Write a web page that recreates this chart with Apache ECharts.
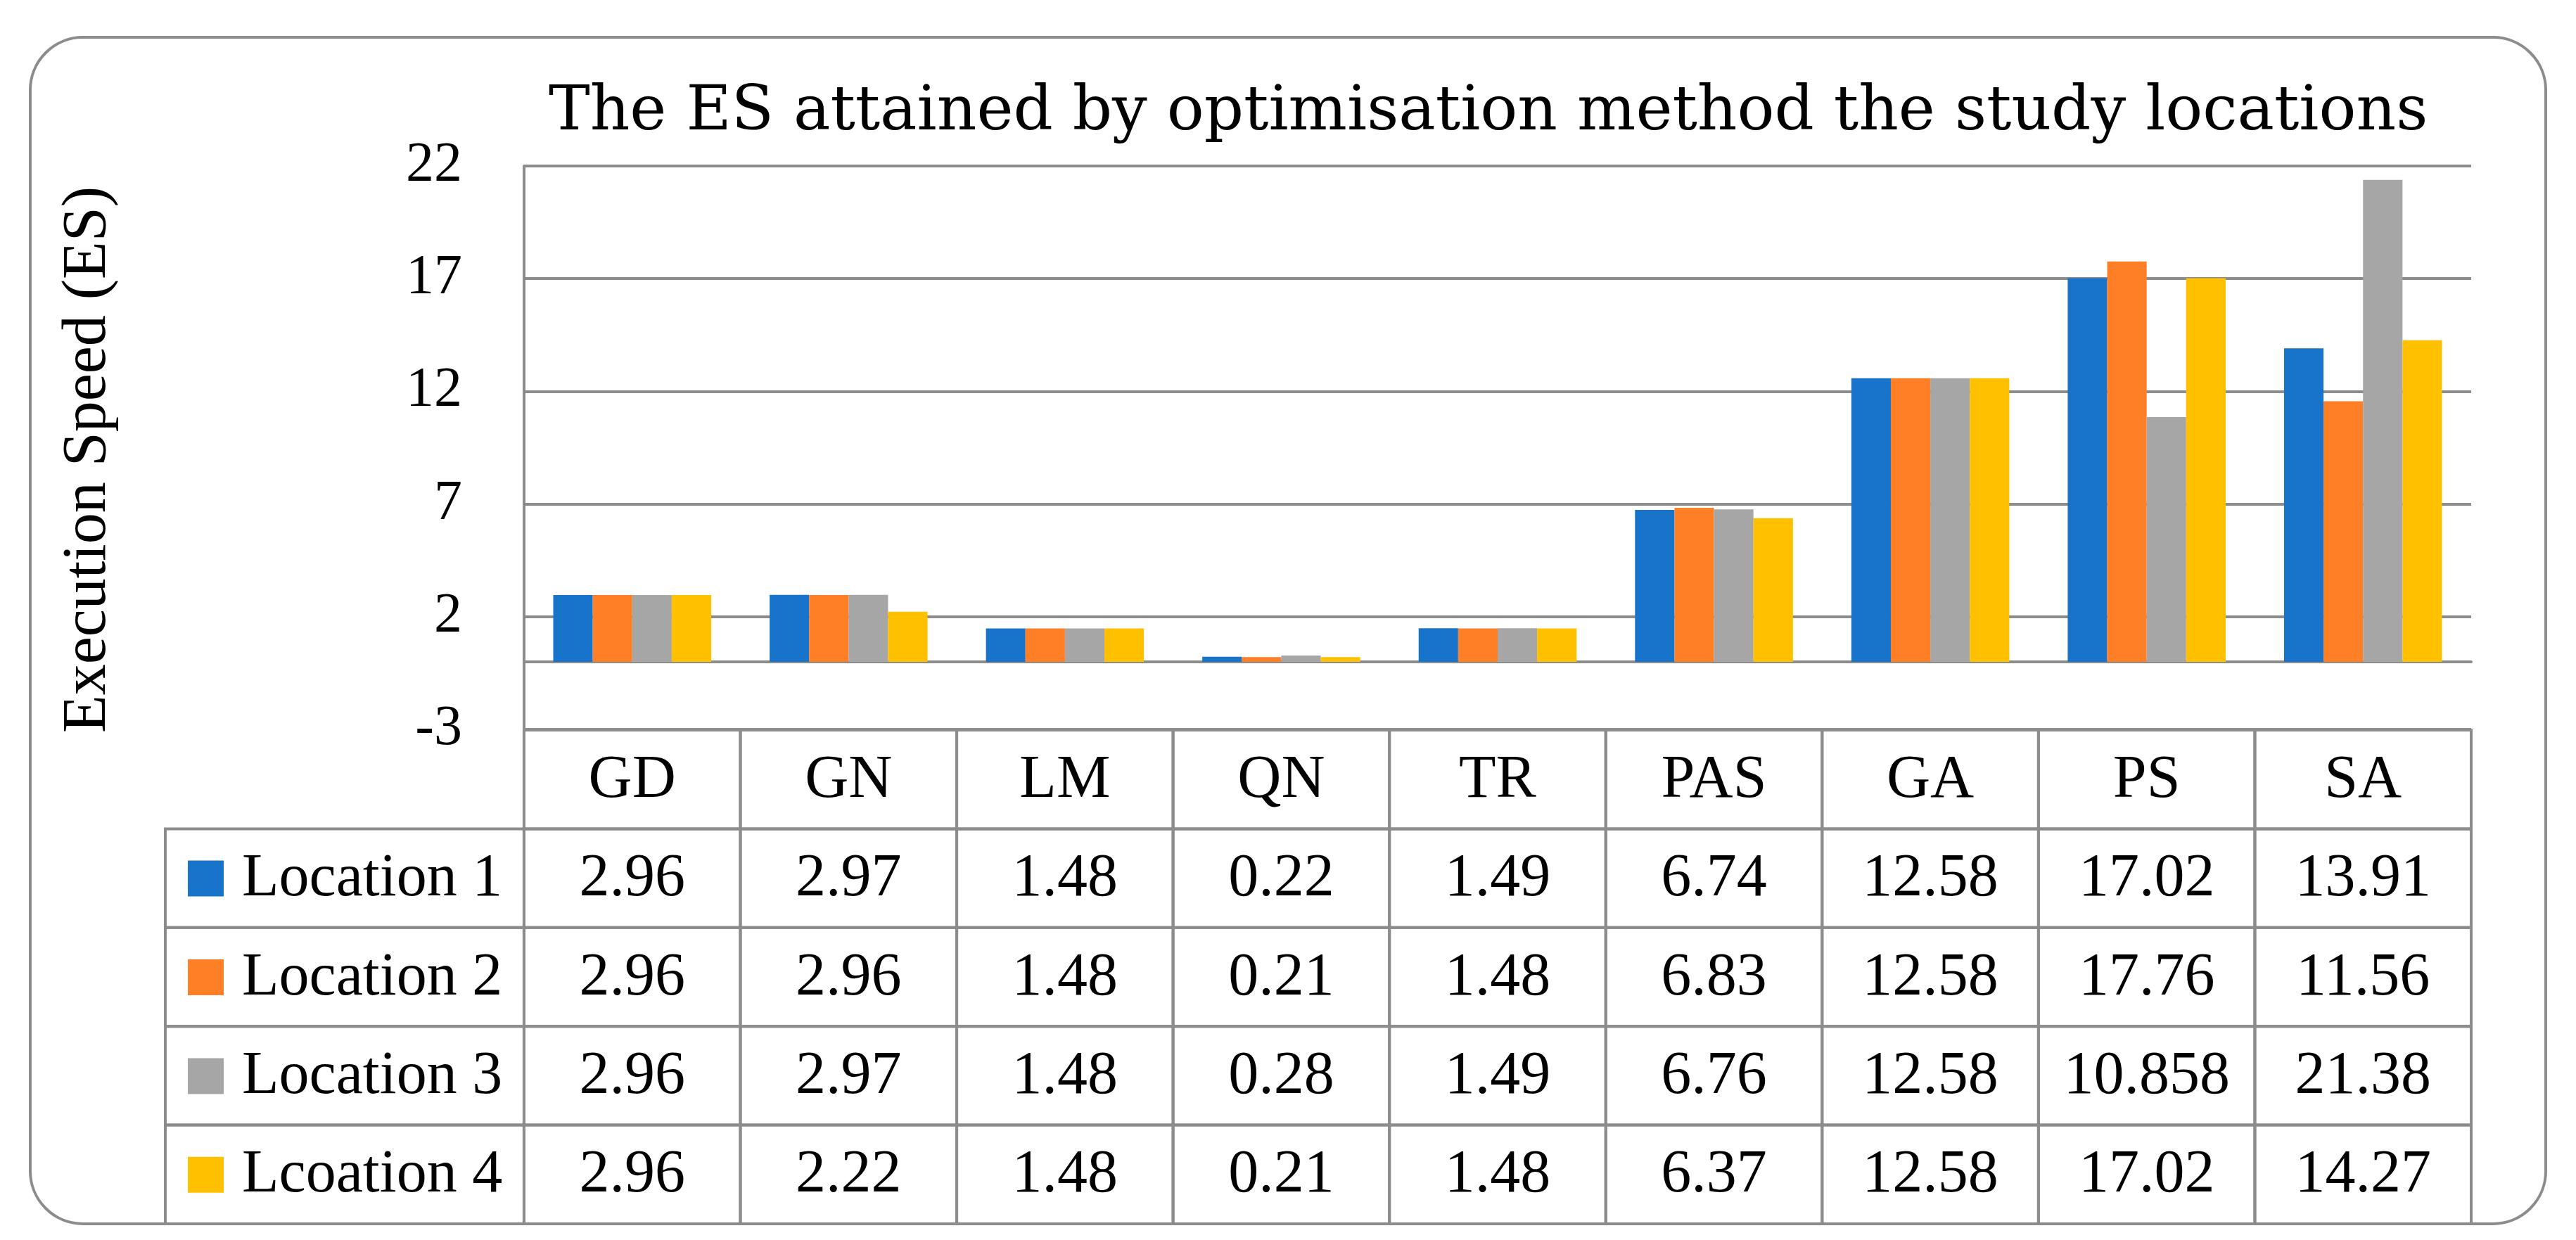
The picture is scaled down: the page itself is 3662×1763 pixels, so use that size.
<!DOCTYPE html>
<html>
<head>
<meta charset="utf-8">
<script src="https://cdn.jsdelivr.net/npm/echarts@6/dist/echarts.min.js"></script>
<style>html,body{margin:0;padding:0;background:#fff;}#c{width:3662px;height:1763px;}</style>
</head>
<body>
<div id="c"></div>
<script>
const categories = ['GD', 'GN', 'LM', 'QN', 'TR', 'PAS', 'GA', 'PS', 'SA'];
const seriesNames = ['Location 1', 'Location 2', 'Location 3', 'Lcoation 4'];
const location1 = ['2.96', '2.97', '1.48', '0.22', '1.49', '6.74', '12.58', '17.02', '13.91'];
const location2 = ['2.96', '2.96', '1.48', '0.21', '1.48', '6.83', '12.58', '17.76', '11.56'];
const location3 = ['2.96', '2.97', '1.48', '0.28', '1.49', '6.76', '12.58', '10.858', '21.38'];
const location4 = ['2.96', '2.22', '1.48', '0.21', '1.48', '6.37', '12.58', '17.02', '14.27'];
const yTicks = { min: -3, max: 22, interval: 5 };
const colors = ['#1874CA', '#FF7F27', '#A6A6A6', '#FFC000'];

const allSeries = [location1, location2, location3, location4];
const FONT = 'Liberation Serif';
const GRAY = '#8c8c8c';
const LEGEND_W = -1.658; // legend column start in table data units

// table cells: [x0, row, width]
const cells = [];
const cellInfo = [];
categories.forEach((c, i) => { cells.push([i, 0, 1]); cellInfo.push({ text: c, kind: 'head' }); });
allSeries.forEach((arr, s) => {
  cells.push([LEGEND_W, s + 1, -LEGEND_W]); cellInfo.push({ text: seriesNames[s], kind: 'legend', color: colors[s] });
  arr.forEach((v, i) => { cells.push([i, s + 1, 1]); cellInfo.push({ text: v, kind: 'val' }); });
});

const chart = echarts.init(document.getElementById('c'), null, { renderer: 'canvas' });
const option = {
  backgroundColor: '#fff',
  animation: false,
  title: {
    text: 'The ES attained by optimisation method the study locations',
    left: 775, top: 112,
    textStyle: { fontFamily: 'DejaVu Serif', fontSize: 88, fontWeight: 'normal', color: '#000' }
  },
  graphic: [{
    type: 'rect', z: -1,
    shape: { x: 43, y: 53, width: 3576, height: 1687, r: 75 },
    style: { fill: 'none', stroke: GRAY, lineWidth: 4 }
  }],
  grid: [
    { left: 745, right: 149, top: 236, bottom: 726 },
    { left: 235, right: 149, top: 1038, bottom: 23 }
  ],
  xAxis: [
    { type: 'category', gridIndex: 0, data: categories,
      axisLine: { show: true, onZero: true, lineStyle: { color: GRAY, width: 4 } },
      axisTick: { show: false }, axisLabel: { show: false }, splitLine: { show: false } },
    { type: 'value', gridIndex: 1, min: LEGEND_W, max: categories.length, show: false }
  ],
  yAxis: [
    { type: 'value', gridIndex: 0, min: yTicks.min, max: yTicks.max, interval: yTicks.interval,
      name: 'Execution Speed (ES)', nameLocation: 'middle', nameGap: 575, nameRotate: 90,
      nameTextStyle: { fontFamily: FONT, fontSize: 88, color: '#000', padding: [0, 34, 0, 0] },
      axisLine: { show: true, lineStyle: { color: GRAY, width: 4 } },
      axisTick: { show: false },
      axisLabel: { fontFamily: FONT, fontSize: 80, color: '#000', margin: 88 },
      splitLine: { show: true, lineStyle: { color: GRAY, width: 4 } } },
    { type: 'value', gridIndex: 1, min: 0, max: 5, inverse: true, show: false }
  ],
  series: allSeries.map((arr, s) => ({
    type: 'bar', name: seriesNames[s], xAxisIndex: 0, yAxisIndex: 0,
    data: arr.map(Number), barGap: '0%', barCategoryGap: '27%',
    itemStyle: { color: colors[s] }
  })).concat([{
    type: 'custom', xAxisIndex: 1, yAxisIndex: 1, clip: false,
    data: cells,
    renderItem: function (params, api) {
      const x0 = api.value(0), r = api.value(1), w = api.value(2);
      const p0 = api.coord([x0, r]);
      const p1 = api.coord([x0 + w, r + 1]);
      const info = cellInfo[params.dataIndex];
      const cx = (p0[0] + p1[0]) / 2, cy = (p0[1] + p1[1]) / 2;
      const children = [{
        type: 'rect', shape: { x: p0[0], y: p0[1], width: p1[0] - p0[0], height: p1[1] - p0[1] },
        style: { fill: 'none', stroke: GRAY, lineWidth: 4 }
      }];
      if (info.kind === 'legend') {
        children.push({ type: 'rect', shape: { x: p0[0] + 32, y: cy - 25, width: 51, height: 51 }, style: { fill: info.color } });
        children.push({ type: 'text', style: { x: p0[0] + 109, y: cy + 2, text: info.text, fill: '#000',
          font: '86px "' + FONT + '"', textAlign: 'left', textVerticalAlign: 'middle' } });
      } else {
        children.push({ type: 'text', style: { x: cx, y: cy + 2, text: info.text, fill: '#000',
          font: '86px "' + FONT + '"', textAlign: 'center', textVerticalAlign: 'middle' } });
      }
      return { type: 'group', children: children };
    }
  }])
};
chart.setOption(option);
</script>
</body>
</html>
